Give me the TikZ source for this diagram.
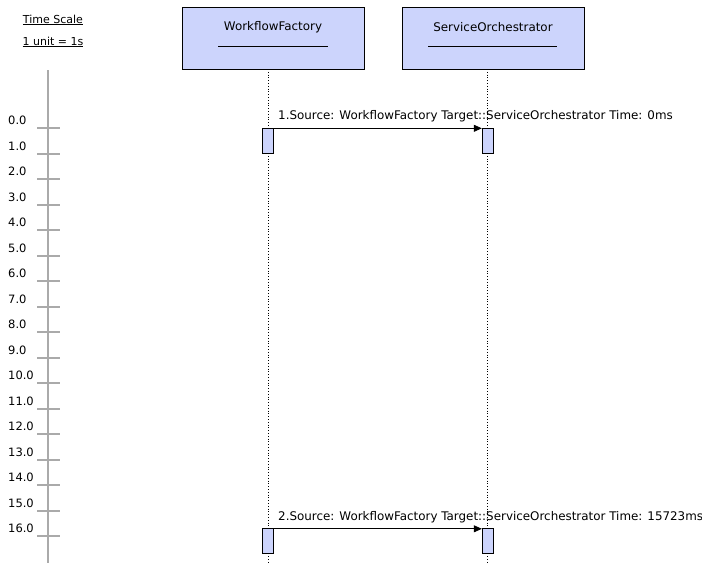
\documentclass[tikz,border=0pt]{standalone}
\usepackage{fontspec}
\setmainfont{DejaVu Sans}
\usetikzlibrary{arrows.meta}
\definecolor{objblue}{RGB}{204,212,252}
\definecolor{scalegray}{RGB}{170,170,170}

\begin{document}
\begin{tikzpicture}[x=1pt,y=-1pt,font=\fontsize{11.9}{14}\selectfont]
  \useasboundingbox (0,0) rectangle (702,563);

  % time scale
  \node [font=\fontsize{11}{13}\selectfont] (ts) at (53,20) {\underline{Time Scale}};
  \node [font=\fontsize{11}{13}\selectfont] (tu) at (53,42) {\underline{1 unit = 1s}};
  \draw [scalegray, line width=2pt] (48,70) -- (48,563);
  \foreach \i in {0,...,16}{
    \pgfmathtruncatemacro{\ty}{round(128+25.5*\i)}
    \draw [scalegray, line width=2pt] (37,\ty) -- (60,\ty);
    \node [anchor=west, inner sep=0, font=\fontsize{11.5}{13}\selectfont] (t\i) at (8,\ty-8) {\i.0};
  }

  % objects
  \node [draw, fill=objblue, line width=0.9pt, minimum width=182pt, minimum height=62pt] (wf) at (273,38) {};
  \node [draw, fill=objblue, line width=0.9pt, minimum width=182pt, minimum height=62pt] (so) at (493,38) {};
  \node (wft) at (273,27) {WorkflowFactory};
  \node (sot) at (493,27) {ServiceOrchestrator};
  \draw [line width=0.8pt] (218,46) -- (328,46);
  \draw [line width=0.8pt] (428,46) -- (557,46);

  % lifelines
  \coordinate (wfe) at (268,563);
  \coordinate (soe) at (487.5,563);
  \draw [dotted, line width=0.8pt] (268,69) -- (wfe);
  \draw [dotted, line width=0.8pt] (487.5,69) -- (soe);

  % activations
  \node [draw, fill=objblue, inner sep=0, minimum width=11pt, minimum height=25pt] (a1) at (268,140.5) {};
  \node [draw, fill=objblue, inner sep=0, minimum width=11pt, minimum height=25pt] (b1) at (487.5,140.5) {};
  \node [draw, fill=objblue, inner sep=0, minimum width=11pt, minimum height=25pt] (a2) at (268,541) {};
  \node [draw, fill=objblue, inner sep=0, minimum width=11pt, minimum height=25pt] (b2) at (487.5,541) {};

  % messages
  \draw [-{Triangle[length=8pt,width=7pt]}, line width=0.8pt] ([yshift=-0.5pt]a1.north east) -- ([yshift=-0.5pt]b1.north west);
  \draw [-{Triangle[length=8pt,width=7pt]}, line width=0.8pt] ([yshift=-0.5pt]a2.north east) -- ([yshift=-0.5pt]b2.north west);
  \node [anchor=west, inner sep=0] (m1) at (278,116) {1.Source: WorkflowFactory Target::ServiceOrchestrator Time: 0ms};
  \node [anchor=west, inner sep=0] (m2) at (278,517) {2.Source: WorkflowFactory Target::ServiceOrchestrator Time: 15723ms};
\end{tikzpicture}
\end{document}
